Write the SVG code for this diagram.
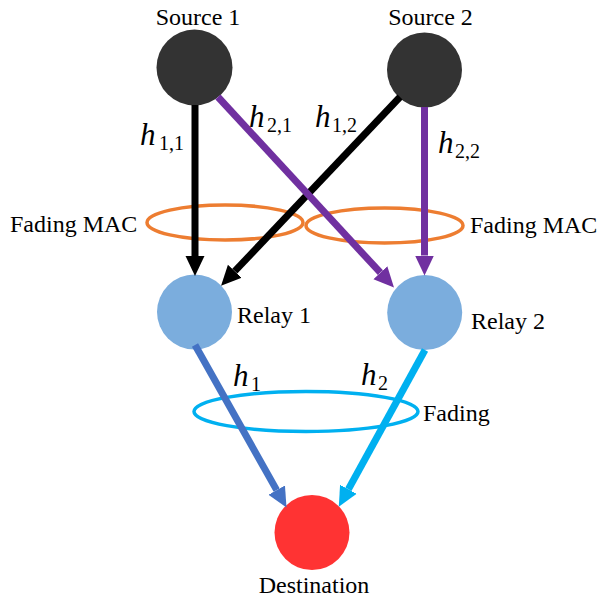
<svg xmlns="http://www.w3.org/2000/svg" width="598" height="601" viewBox="0 0 598 601">
<style>
.lbl{font-family:'Liberation Serif',serif;font-size:24px;fill:#000}
.h{font-family:'Liberation Serif',serif;font-style:italic;font-size:31px;fill:#000}
.sub{font-family:'Liberation Serif',serif;font-size:20px;fill:#000}
.src{fill:#333333}
.relay{fill:#7BADDD}
.dest{fill:#FF3333}
.ring{fill:none;stroke-width:3.5}
.edge{fill:none;stroke-width:7}
</style>
<defs>
<marker id="ak" markerUnits="userSpaceOnUse" markerWidth="20" markerHeight="20" refX="0" refY="9" orient="auto" viewBox="0 0 19 18"><path d="M0,0 L19,9 L0,18 Z" fill="#000"/></marker>
<marker id="ap" markerUnits="userSpaceOnUse" markerWidth="20" markerHeight="20" refX="0" refY="9" orient="auto" viewBox="0 0 19 18"><path d="M0,0 L19,9 L0,18 Z" fill="#7030A0"/></marker>
<marker id="ab" markerUnits="userSpaceOnUse" markerWidth="20" markerHeight="20" refX="0" refY="9" orient="auto" viewBox="0 0 19 18"><path d="M0,0 L19,9 L0,18 Z" fill="#4472C4"/></marker>
<marker id="ac" markerUnits="userSpaceOnUse" markerWidth="20" markerHeight="20" refX="0" refY="9" orient="auto" viewBox="0 0 19 18"><path d="M0,0 L19,9 L0,18 Z" fill="#00B0F0"/></marker>
</defs>
<g id="source1"><circle class="src" cx="194.5" cy="67.5" r="38"/><text class="lbl" x="198" y="25" text-anchor="middle">Source 1</text></g>
<g id="source2"><circle class="src" cx="424.5" cy="70" r="37.5"/><text class="lbl" x="430.5" y="25" text-anchor="middle">Source 2</text></g>
<g id="relay1"><circle class="relay" cx="194.5" cy="312" r="37.5"/><text class="lbl" x="237" y="323">Relay 1</text></g>
<g id="relay2"><circle class="relay" cx="424.7" cy="312.5" r="37.5"/><text class="lbl" x="471" y="329">Relay 2</text></g>
<g id="destination"><circle class="dest" cx="312" cy="532.5" r="37.5"/><text class="lbl" x="314" y="593" text-anchor="middle">Destination</text></g>
<g id="fading-mac-1"><ellipse class="ring" stroke="#ED7D31" cx="225" cy="222.5" rx="78" ry="17.5"/><text class="lbl" x="10" y="232">Fading MAC</text></g>
<g id="fading-mac-2"><ellipse class="ring" stroke="#ED7D31" cx="384.5" cy="225.5" rx="78.5" ry="17.5"/><text class="lbl" x="470" y="233">Fading MAC</text></g>
<g id="fading"><ellipse class="ring" stroke="#00B0F0" cx="306" cy="411.5" rx="112" ry="20"/><text class="lbl" x="423" y="421">Fading</text></g>
<g id="connectors">
<line class="edge" stroke="#000" x1="195" y1="105" x2="195" y2="256" marker-end="url(#ak)"/>
<line class="edge" stroke="#000" x1="400" y1="97" x2="234.8" y2="271.2" marker-end="url(#ak)"/>
<line class="edge" stroke="#7030A0" x1="218" y1="97" x2="380.4" y2="272.7" marker-end="url(#ap)"/>
<line class="edge" stroke="#7030A0" x1="424.5" y1="107" x2="424.5" y2="255.5" marker-end="url(#ap)"/>
<line class="edge" stroke="#4472C4" x1="195" y1="345" x2="276.7" y2="490.1" marker-end="url(#ab)"/>
<line class="edge" stroke="#00B0F0" x1="425" y1="350" x2="348.4" y2="489.3" marker-end="url(#ac)"/>
</g>
<g id="labels">
<text class="h" x="140" y="145">h</text><text class="sub" x="159" y="150">1,1</text>
<text class="h" x="249" y="127">h</text><text class="sub" x="267" y="132">2,1</text>
<text class="h" x="315" y="127">h</text><text class="sub" x="332" y="132">1,2</text>
<text class="h" x="438" y="153">h</text><text class="sub" x="455" y="158">2,2</text>
<text class="h" x="233" y="386">h</text><text class="sub" x="251" y="391">1</text>
<text class="h" x="361" y="385">h</text><text class="sub" x="378" y="390">2</text>
</g>
</svg>
